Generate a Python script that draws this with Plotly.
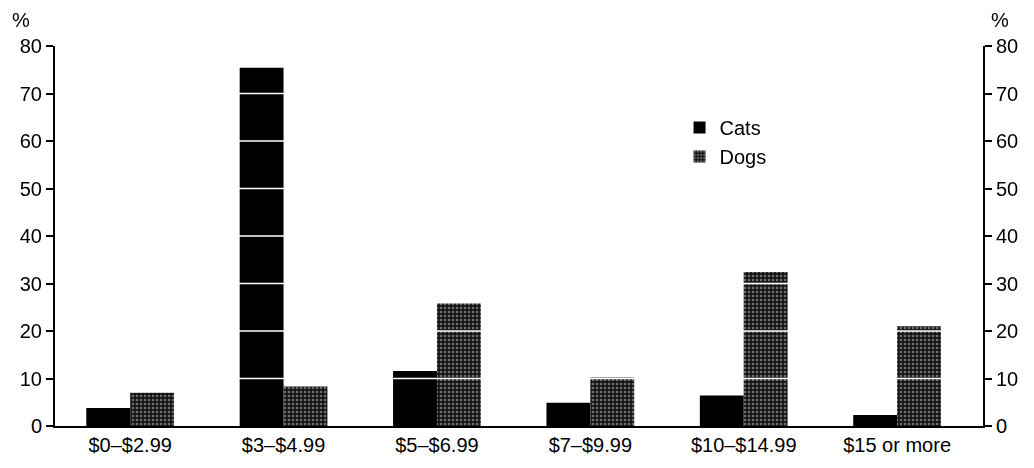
import plotly.graph_objects as go

# price bands and share of owners (%)
bands = ["$0–$2.99", "$3–$4.99", "$5–$6.99", "$7–$9.99", "$10–$14.99", "$15 or more"]
cats = [3.8, 75.4, 11.6, 4.9, 6.4, 2.3]
dogs = [7.0, 8.3, 25.8, 10.2, 32.4, 21.0]
ticks = [0, 10, 20, 30, 40, 50, 60, 70, 80]

font = dict(family="Liberation Sans, Arial, sans-serif", size=20, color="black")

fig = go.Figure()
fig.add_trace(go.Bar(x=bands, y=cats, name="Cats", marker=dict(color="black", line=dict(width=0))))
fig.add_trace(go.Bar(
    x=bands, y=dogs, name="Dogs",
    marker=dict(color="#151515", line=dict(width=0),
                pattern=dict(shape=".", fgcolor="#c8c8c8", bgcolor="#151515", size=4, solidity=0.35)),
))
# invisible twin so the right-hand axis gets drawn
fig.add_trace(go.Scatter(x=bands, y=cats, yaxis="y2", mode="markers", opacity=0,
                         showlegend=False, hoverinfo="skip"))

axis_common = dict(
    range=[0, 80], tickvals=ticks, showgrid=False, zeroline=False,
    showline=True, linecolor="black", linewidth=2,
    ticks="outside", ticklen=7, tickwidth=2, tickcolor="black",
    tickfont=font, fixedrange=True,
)

fig.update_layout(
    width=1026, height=460,
    margin=dict(l=44, r=51, t=38, b=42),
    paper_bgcolor="white", plot_bgcolor="white",
    font=font,
    barmode="group", bargap=0.428, bargroupgap=0,
    showlegend=True,
    legend=dict(x=0.673, y=0.837, xanchor="left", yanchor="top",
                bgcolor="rgba(0,0,0,0)", font=font, itemwidth=30,
                tracegroupgap=0),
    xaxis=dict(type="category", range=[-0.49, 5.56], showline=True, linecolor="black",
               linewidth=2, ticks="", showgrid=False, tickfont=font, fixedrange=True),
    yaxis=dict(**axis_common, side="left"),
    yaxis2=dict(**axis_common, side="right", overlaying="y", anchor="x"),
)

# white rules cutting across the bars at each tick
for t in ticks[1:-1]:
    fig.add_shape(type="line", xref="paper", x0=0, x1=1, yref="y", y0=t, y1=t,
                  line=dict(color="white", width=1.5), layer="above")

fig.add_annotation(text="%", xref="paper", yref="paper", x=0, y=1.0, xshift=-34, yshift=26,
                   showarrow=False, font=font, xanchor="center", yanchor="middle")
fig.add_annotation(text="%", xref="paper", yref="paper", x=1, y=1.0, xshift=17, yshift=26,
                   showarrow=False, font=font, xanchor="center", yanchor="middle")

fig.write_html("out.html")
